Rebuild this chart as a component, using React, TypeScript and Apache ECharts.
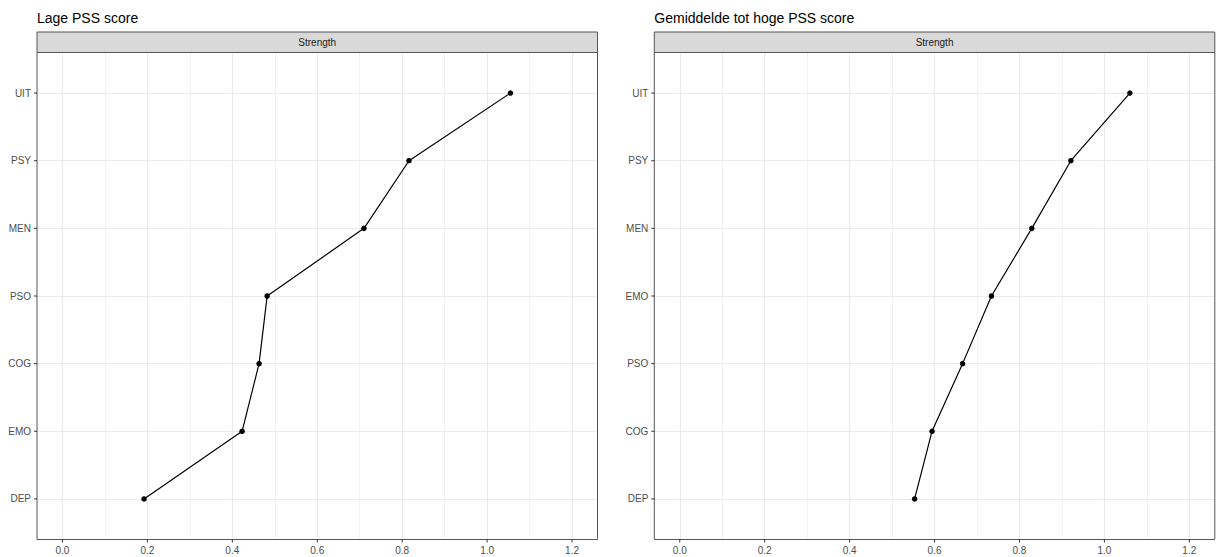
import React, { useEffect, useRef } from "react";
import * as echarts from "echarts";

const leftCategories = ["DEP", "EMO", "COG", "PSO", "MEN", "PSY", "UIT"];
const leftValues = [0.192, 0.423, 0.463, 0.482, 0.71, 0.816, 1.055];
const rightCategories = ["DEP", "COG", "PSO", "EMO", "MEN", "PSY", "UIT"];
const rightValues = [0.553, 0.594, 0.666, 0.734, 0.829, 0.921, 1.06];
const xTicks = [0, 0.2, 0.4, 0.6, 0.8, 1.0, 1.2];
const xMinor = [0.1, 0.3, 0.5, 0.7, 0.9, 1.1];
const yIdx = [0, 1, 2, 3, 4, 5, 6];
const xRange = [-0.06, 1.26];
const yRange = [-0.6, 6.6];
const titles = ["Lage PSS score", "Gemiddelde tot hoge PSS score"];
const stripLabel = "Strength";

const FONT = "'Liberation Sans', Arial, Helvetica, sans-serif";

export default function App() {
  const ref = useRef<HTMLDivElement>(null);
  useEffect(() => {
    if (!ref.current) return;
    const chart = echarts.init(ref.current, null, { renderer: "svg" });
    const panels = [
      { left: 37, cats: leftCategories, vals: leftValues },
      { left: 654.3, cats: rightCategories, vals: rightValues },
    ];
    const top = 52.5;
    const width = 560.5;
    const height = 487;
    const tickLen = 3;
    const grids: any[] = [];
    const xAxes: any[] = [];
    const yAxes: any[] = [];
    const series: any[] = [];
    const graphics: any[] = [];
    panels.forEach((p, gi) => {
      grids.push({ left: p.left, top, width, height, containLabel: false });
      xAxes.push({
        type: "value",
        gridIndex: gi,
        position: "bottom",
        min: xRange[0],
        max: xRange[1],
        axisLine: { show: false, onZero: false },
        axisTick: { show: false, customValues: xTicks },
        axisLabel: {
          show: true,
          margin: 5.5,
          color: "#4d4d4d",
          fontSize: 10,
          fontFamily: FONT,
          customValues: xTicks,
          formatter: (v: number) => v.toFixed(1),
        },
        splitLine: { show: true, lineStyle: { color: "#EBEBEB", width: 1.1 } },
        z: 2,
      });
      xAxes.push({
        type: "value",
        gridIndex: gi,
        position: "bottom",
        min: xRange[0],
        max: xRange[1],
        axisLine: { show: false, onZero: false },
        axisTick: { show: false, customValues: xMinor },
        axisLabel: { show: false, customValues: xMinor },
        splitLine: { show: true, lineStyle: { color: "#EDEDED", width: 0.7 } },
        z: 1,
      });
      yAxes.push({
        type: "value",
        gridIndex: gi,
        position: "left",
        min: yRange[0],
        max: yRange[1],
        axisLine: { show: false, onZero: false },
        axisTick: { show: false, customValues: yIdx },
        axisLabel: {
          show: true,
          margin: 6,
          color: "#4d4d4d",
          fontSize: 10,
          fontFamily: FONT,
          customValues: yIdx,
          formatter: (v: number) => {
            const i = Math.round(v);
            return i >= 0 && i < p.cats.length ? p.cats[i] : "";
          },
        },
        splitLine: { show: true, lineStyle: { color: "#EBEBEB", width: 1.1 } },
      });
      series.push({
        type: "line",
        xAxisIndex: gi * 2,
        yAxisIndex: gi,
        data: p.vals.map((v, i) => [v, i]),
        symbol: "circle",
        symbolSize: 5.5,
        showSymbol: true,
        lineStyle: { color: "#000", width: 1.2 },
        itemStyle: { color: "#000" },
        z: 5,
      });
      graphics.push({
        type: "rect",
        shape: { x: p.left, y: top, width, height },
        style: { fill: "none", stroke: "#555", lineWidth: 1 },
        z: 100,
        silent: true,
      });
      graphics.push({
        type: "rect",
        shape: { x: p.left, y: 32, width, height: 20.5 },
        style: { fill: "#D9D9D9", stroke: "#555", lineWidth: 1 },
        z: 100,
        silent: true,
      });
      graphics.push({
        type: "text",
        x: p.left + width / 2,
        y: 42.3,
        style: {
          text: stripLabel,
          fill: "#1a1a1a",
          fontSize: 10,
          fontFamily: FONT,
          align: "center",
          verticalAlign: "middle",
        },
        z: 101,
        silent: true,
      });
      graphics.push({
        type: "text",
        x: p.left,
        y: 17.5,
        style: {
          text: titles[gi],
          fill: "#000",
          fontSize: 14,
          fontFamily: FONT,
          align: "left",
          verticalAlign: "middle",
        },
        z: 101,
        silent: true,
      });
    });
    chart.setOption({
      animation: false,
      backgroundColor: "#fff",
      grid: grids,
      xAxis: xAxes,
      yAxis: yAxes,
      series,
    });
    // tick marks placed through the axes' own scales
    panels.forEach((p, gi) => {
      const finder = { xAxisIndex: gi * 2, yAxisIndex: gi };
      yIdx.forEach((i) => {
        const pt = chart.convertToPixel(finder as any, [xRange[0], i]) as number[];
        if (!pt) return;
        graphics.push({
          type: "line",
          shape: { x1: pt[0] - tickLen, y1: pt[1], x2: pt[0], y2: pt[1] },
          style: { stroke: "#333", lineWidth: 1 },
          z: 100,
          silent: true,
        });
      });
      xTicks.forEach((x) => {
        const pt = chart.convertToPixel(finder as any, [x, yRange[0]]) as number[];
        if (!pt) return;
        graphics.push({
          type: "line",
          shape: { x1: pt[0], y1: pt[1], x2: pt[0], y2: pt[1] + tickLen },
          style: { stroke: "#333", lineWidth: 1 },
          z: 100,
          silent: true,
        });
      });
    });
    chart.setOption({ graphic: graphics });
    return () => chart.dispose();
  }, []);
  return (
    <div
      ref={ref}
      style={{ position: "fixed", left: 0, top: 0, width: 1217, height: 557 }}
    />
  );
}
